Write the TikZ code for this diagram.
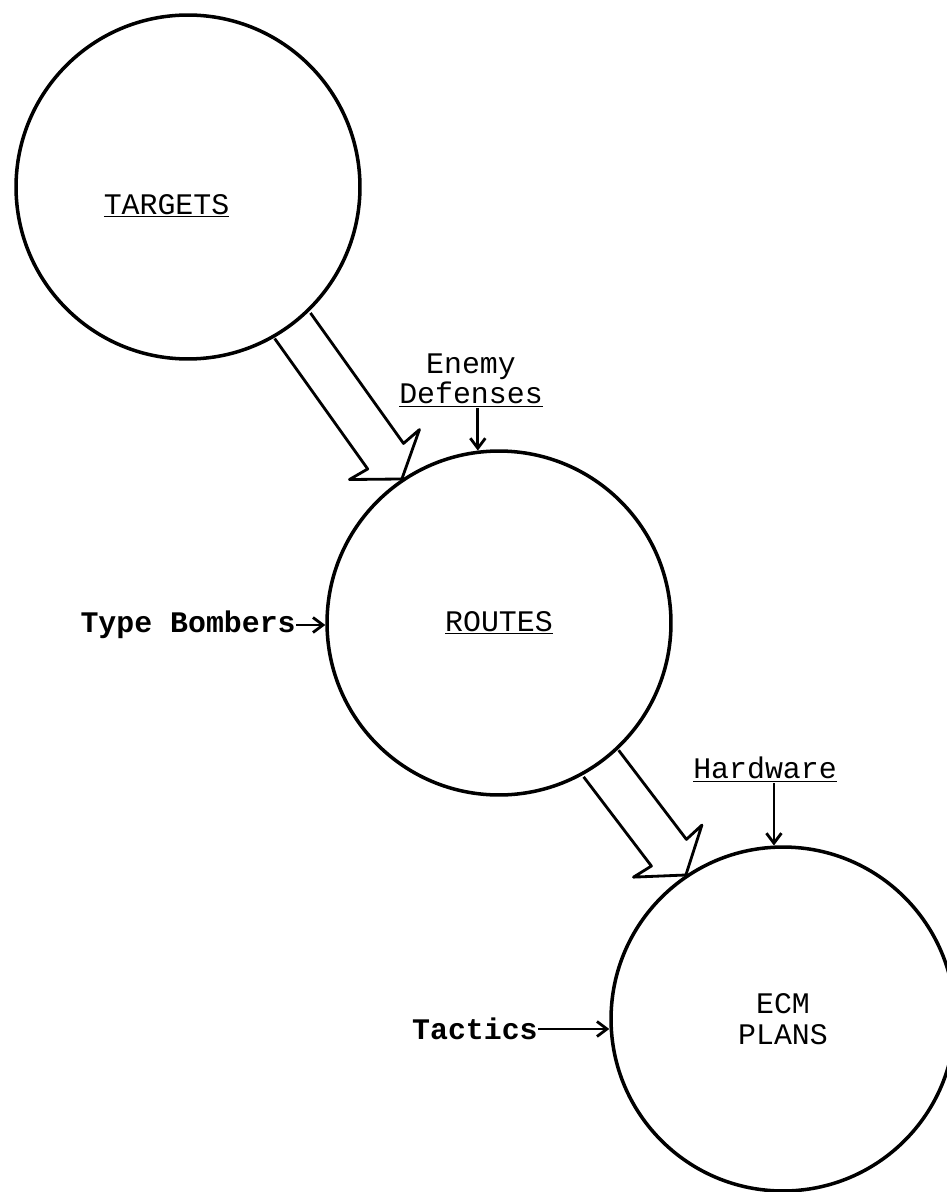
\documentclass[tikz,border=0pt]{standalone}
\usepackage{fontspec}
\setmonofont{Liberation Mono}
\usetikzlibrary{arrows.meta,calc}

\newcommand{\typeface}{\fontsize{17}{17.5}\selectfont\ttfamily}
\newcommand{\fatarrow}[2]{%
  \draw [fatline] ($(#1)!0.44cm!90:(#2)$) -- ($(#2)!0.56cm!(#1)!0.44cm!-90:(#1)$)
    -- ($(#2)!0.60cm!(#1)!0.86cm!-90:(#1)$) -- (#2)
    -- ($(#2)!0.60cm!(#1)!0.86cm!90:(#1)$) -- ($(#2)!0.56cm!(#1)!0.44cm!90:(#1)$)
    -- ($(#1)!0.44cm!-90:(#2)$);}

\begin{document}
\begin{tikzpicture}[x=0.02cm,y=-0.02cm,
	bubble/.style={circle, draw, line width=2pt, minimum size=6.88cm, inner sep=0pt, font=\typeface, align=center},
	typed/.style={font=\typeface, inner sep=0pt, align=center},
	feed/.style={line width=1.6pt, -{Straight Barb[length=0.2cm,width=0.3cm]}},
	fatline/.style={line width=1.6pt, line join=round}]
	\useasboundingbox (0,0) rectangle (946,1192);
	\node [bubble, label={[typed,xshift=-0.43cm,yshift=-0.38cm]center:\underline{TARGETS}}] (targets) at (188,187) {};
	\node [bubble] (routes) at (499,623) {\underline{ROUTES}};
	\node [bubble] (plans) at (783,1019) {ECM\\PLANS};
	\node [typed, anchor=south] (enemy) at (471,408) {Enemy\\\underline{Defenses}};
	\node [typed, anchor=south] (hardware) at (765,783) {\underline{Hardware}};
	\node [typed, anchor=east, font=\typeface\bfseries] (bombers) at (296,625) {Type Bombers};
	\node [typed, anchor=east, font=\typeface\bfseries] (tactics) at (538,1029) {Tactics};
	% wide flow arrows between the stages
	\fatarrow{targets.-53}{routes.124}
	\fatarrow{routes.-54}{plans.124}
	\draw [feed] (enemy.south -| routes.97) -- (routes.97);
	\draw [feed] (hardware.south -| plans.93) -- (plans.93);
	\draw [feed] (bombers.east) -- (bombers.east -| routes.west);
	\draw [feed] (tactics.east) -- (tactics.east -| plans.west);
\end{tikzpicture}
\end{document}
